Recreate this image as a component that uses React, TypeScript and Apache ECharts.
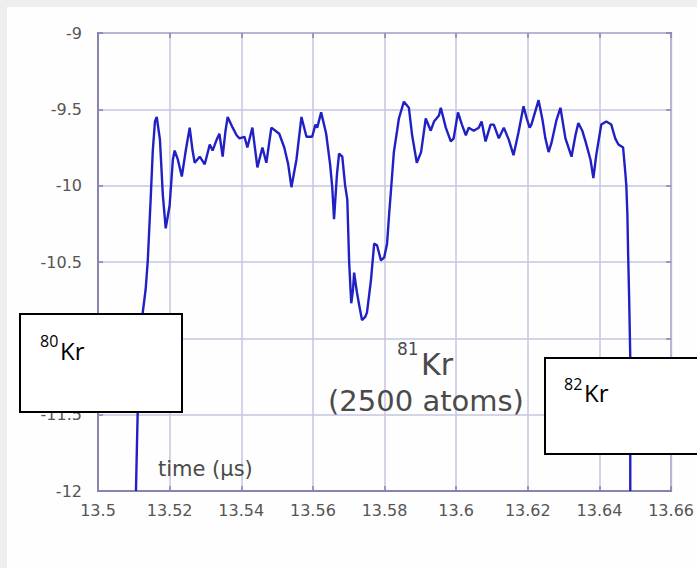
import React, { useEffect, useRef } from "react";
import * as echarts from "echarts";

// time (µs)
const times = [
  13.5106, 13.5109, 13.5111, 13.5119, 13.5125, 13.5133, 13.5139, 13.5147, 13.5153, 13.5159,
  13.5164, 13.5173, 13.5181, 13.5189, 13.52, 13.5209, 13.5214, 13.5223, 13.5234, 13.5245,
  13.5256, 13.5264, 13.527, 13.5284, 13.5298, 13.5312, 13.532, 13.5331, 13.5339, 13.5348,
  13.5356, 13.5362, 13.5376, 13.5387, 13.5395, 13.5409, 13.5417, 13.5431, 13.5445, 13.5459,
  13.547, 13.5484, 13.5506, 13.552, 13.5531, 13.554, 13.5554, 13.5568, 13.5582, 13.5598,
  13.5607, 13.5612, 13.5623, 13.5637, 13.5648, 13.5654, 13.5659, 13.5667, 13.5673, 13.5682,
  13.569, 13.5696, 13.5701, 13.5707, 13.5712, 13.5715, 13.5723, 13.5729, 13.5737, 13.5746,
  13.5751, 13.5762, 13.5771, 13.5779, 13.579, 13.5799, 13.5807, 13.5813, 13.5818, 13.5826,
  13.5835, 13.584, 13.5854, 13.5868, 13.5877, 13.589, 13.5902, 13.5915, 13.5929, 13.5938,
  13.5952, 13.5957, 13.5971, 13.5985, 13.5993, 13.6005, 13.6016, 13.6027, 13.6035, 13.6049,
  13.6063, 13.6071, 13.6082, 13.6096, 13.6105, 13.6119, 13.6133, 13.6147, 13.616, 13.6174,
  13.6188, 13.6197, 13.6205, 13.621, 13.623, 13.6241, 13.6249, 13.6258, 13.6266, 13.628,
  13.6291, 13.6305, 13.6322, 13.6333, 13.6341, 13.6352, 13.6361, 13.6375, 13.6383, 13.6391,
  13.6405, 13.6419, 13.6433, 13.6444, 13.6453, 13.6466, 13.6472, 13.6475, 13.6478, 13.648,
  13.6483, 13.6486, 13.6486,
];

// signal
const signal = [
  -12.0, -11.67, -11.47, -11.01, -10.83, -10.68, -10.49, -10.09, -9.77, -9.58,
  -9.55, -9.7, -10.06, -10.28, -10.13, -9.83, -9.77, -9.83, -9.94, -9.77,
  -9.62, -9.77, -9.85, -9.81, -9.86, -9.73, -9.77, -9.7, -9.66, -9.81,
  -9.64, -9.55, -9.62, -9.67, -9.69, -9.68, -9.75, -9.62, -9.88, -9.75,
  -9.85, -9.62, -9.66, -9.75, -9.86, -10.01, -9.83, -9.55, -9.68, -9.68,
  -9.6, -9.62, -9.52, -9.66, -9.86, -10.01, -10.22, -9.93, -9.79, -9.81,
  -10.0, -10.09, -10.49, -10.77, -10.68, -10.57, -10.7, -10.78, -10.88, -10.86,
  -10.83, -10.62, -10.38, -10.39, -10.49, -10.47, -10.38, -10.18, -10.03, -9.78,
  -9.64, -9.56, -9.45, -9.49, -9.67, -9.85, -9.78, -9.56, -9.64, -9.58,
  -9.54, -9.49, -9.62, -9.71, -9.69, -9.52, -9.6, -9.67, -9.62, -9.64,
  -9.62, -9.58, -9.71, -9.6, -9.6, -9.69, -9.62, -9.7, -9.8, -9.65,
  -9.48, -9.56, -9.62, -9.6, -9.44, -9.57, -9.69, -9.78, -9.72, -9.57,
  -9.49, -9.69, -9.81, -9.67, -9.59, -9.64, -9.71, -9.83, -9.95, -9.8,
  -9.6, -9.58, -9.6, -9.69, -9.73, -9.75, -9.91, -10.0, -10.19, -10.44,
  -10.75, -11.12, -12.0,
];

const xMin = 13.5;
const xMax = 13.66;
const xStep = 0.02;
const yMin = -12;
const yMax = -9;
const yStep = 0.5;
// y tick hidden behind the 80Kr box in the reference
const hiddenYTicks = [-11];

const labelFont = "DejaVu Sans";

export default function App() {
  const ref = useRef<HTMLDivElement>(null);

  useEffect(() => {
    if (!ref.current) return;
    const chart = echarts.init(ref.current, null, { renderer: "svg" });
    const data = times.map((t, i) => [t, signal[i]]);
    const frameColor = "#8585ad";
    chart.setOption({
      animation: false,
      backgroundColor: "#fefefe",
      grid: {
        left: 98,
        top: 33,
        width: 575,
        height: 458,
        show: true,
        borderColor: frameColor,
        borderWidth: 2,
        backgroundColor: "transparent",
      },
      xAxis: [
        {
          type: "value",
          min: xMin,
          max: xMax,
          interval: xStep,
          axisLine: { show: true, lineStyle: { color: frameColor, width: 2 } },
          axisTick: { show: true, inside: true, length: 5, lineStyle: { color: frameColor, width: 1.5 } },
          axisLabel: {
            color: "#555",
            fontFamily: labelFont,
            fontSize: 16,
            margin: 11,
            formatter: (v: number) => String(parseFloat(v.toFixed(2))),
          },
          splitLine: { show: true, lineStyle: { color: "#c6c6e2", width: 1.5 } },
        },
        {
          type: "value",
          position: "top",
          min: xMin,
          max: xMax,
          interval: xStep,
          axisLine: { show: false },
          axisTick: { show: true, inside: true, length: 5, lineStyle: { color: frameColor, width: 1.5 } },
          axisLabel: { show: false },
          splitLine: { show: false },
        },
      ],
      yAxis: [
        {
          type: "value",
          min: yMin,
          max: yMax,
          interval: yStep,
          axisLine: { show: true, lineStyle: { color: frameColor, width: 2 } },
          axisTick: { show: true, inside: true, length: 5, lineStyle: { color: frameColor, width: 1.5 } },
          axisLabel: {
            color: "#555",
            fontFamily: labelFont,
            fontSize: 16,
            margin: 16,
            formatter: (v: number) =>
              hiddenYTicks.some((h) => Math.abs(h - v) < 1e-9) ? "" : String(parseFloat(v.toFixed(2))),
          },
          splitLine: { show: true, lineStyle: { color: "#c6c6e2", width: 1.5 } },
        },
        {
          type: "value",
          position: "right",
          min: yMin,
          max: yMax,
          interval: yStep,
          axisLine: { show: false },
          axisTick: { show: true, inside: true, length: 5, lineStyle: { color: frameColor, width: 1.5 } },
          axisLabel: { show: false },
          splitLine: { show: false },
        },
      ],
      series: [
        {
          type: "line",
          data,
          xAxisIndex: 0,
          yAxisIndex: 0,
          showSymbol: false,
          symbol: "none",
          clip: true,
          lineStyle: { color: "#2020c4", width: 2.4 },
          z: 3,
        },
      ],
      graphic: [
        { type: "rect", shape: { x: 0, y: 0, width: 697, height: 7 }, style: { fill: "#eeeeee" }, silent: true },
        { type: "rect", shape: { x: 0, y: 0, width: 7, height: 568 }, style: { fill: "#eeeeee" }, silent: true },
        {
          type: "text",
          x: 158,
          y: 469,
          style: { text: "time (μs)", fill: "#4a4a4a", font: `21px '${labelFont}'`, textVerticalAlign: "middle" },
          z: 10,
        },
        {
          type: "text",
          x: 397,
          y: 349,
          style: { text: "81", fill: "#4a4a4a", font: `17px '${labelFont}'`, textVerticalAlign: "middle" },
          z: 10,
        },
        {
          type: "text",
          x: 421,
          y: 364,
          style: { text: "Kr", fill: "#4a4a4a", font: `30px '${labelFont}'`, textVerticalAlign: "middle" },
          z: 10,
        },
        {
          type: "text",
          x: 426,
          y: 401,
          style: {
            text: "(2500 atoms)",
            fill: "#4a4a4a",
            font: `29px '${labelFont}'`,
            textAlign: "center",
            textVerticalAlign: "middle",
          },
          z: 10,
        },
        {
          type: "rect",
          shape: { x: 20, y: 314, width: 162, height: 98 },
          style: { fill: "#ffffff", stroke: "#000000", lineWidth: 2 },
          z: 20,
        },
        {
          type: "text",
          x: 40,
          y: 341,
          style: { text: "80", fill: "#000", font: "16px 'Open Sans'", textVerticalAlign: "middle" },
          z: 21,
        },
        {
          type: "text",
          x: 60,
          y: 350,
          style: { text: "Kr", fill: "#000", font: "24px 'Open Sans'", textVerticalAlign: "middle" },
          z: 21,
        },
        {
          type: "rect",
          shape: { x: 545, y: 358, width: 170, height: 96 },
          style: { fill: "#ffffff", stroke: "#000000", lineWidth: 2 },
          z: 20,
        },
        {
          type: "text",
          x: 564,
          y: 384,
          style: { text: "82", fill: "#000", font: "16px 'Open Sans'", textVerticalAlign: "middle" },
          z: 21,
        },
        {
          type: "text",
          x: 584,
          y: 392,
          style: { text: "Kr", fill: "#000", font: "24px 'Open Sans'", textVerticalAlign: "middle" },
          z: 21,
        },
      ],
    });
    return () => chart.dispose();
  }, []);

  return (
    <div
      ref={ref}
      style={{ position: "fixed", left: 0, top: 0, width: 697, height: 568 }}
    />
  );
}
